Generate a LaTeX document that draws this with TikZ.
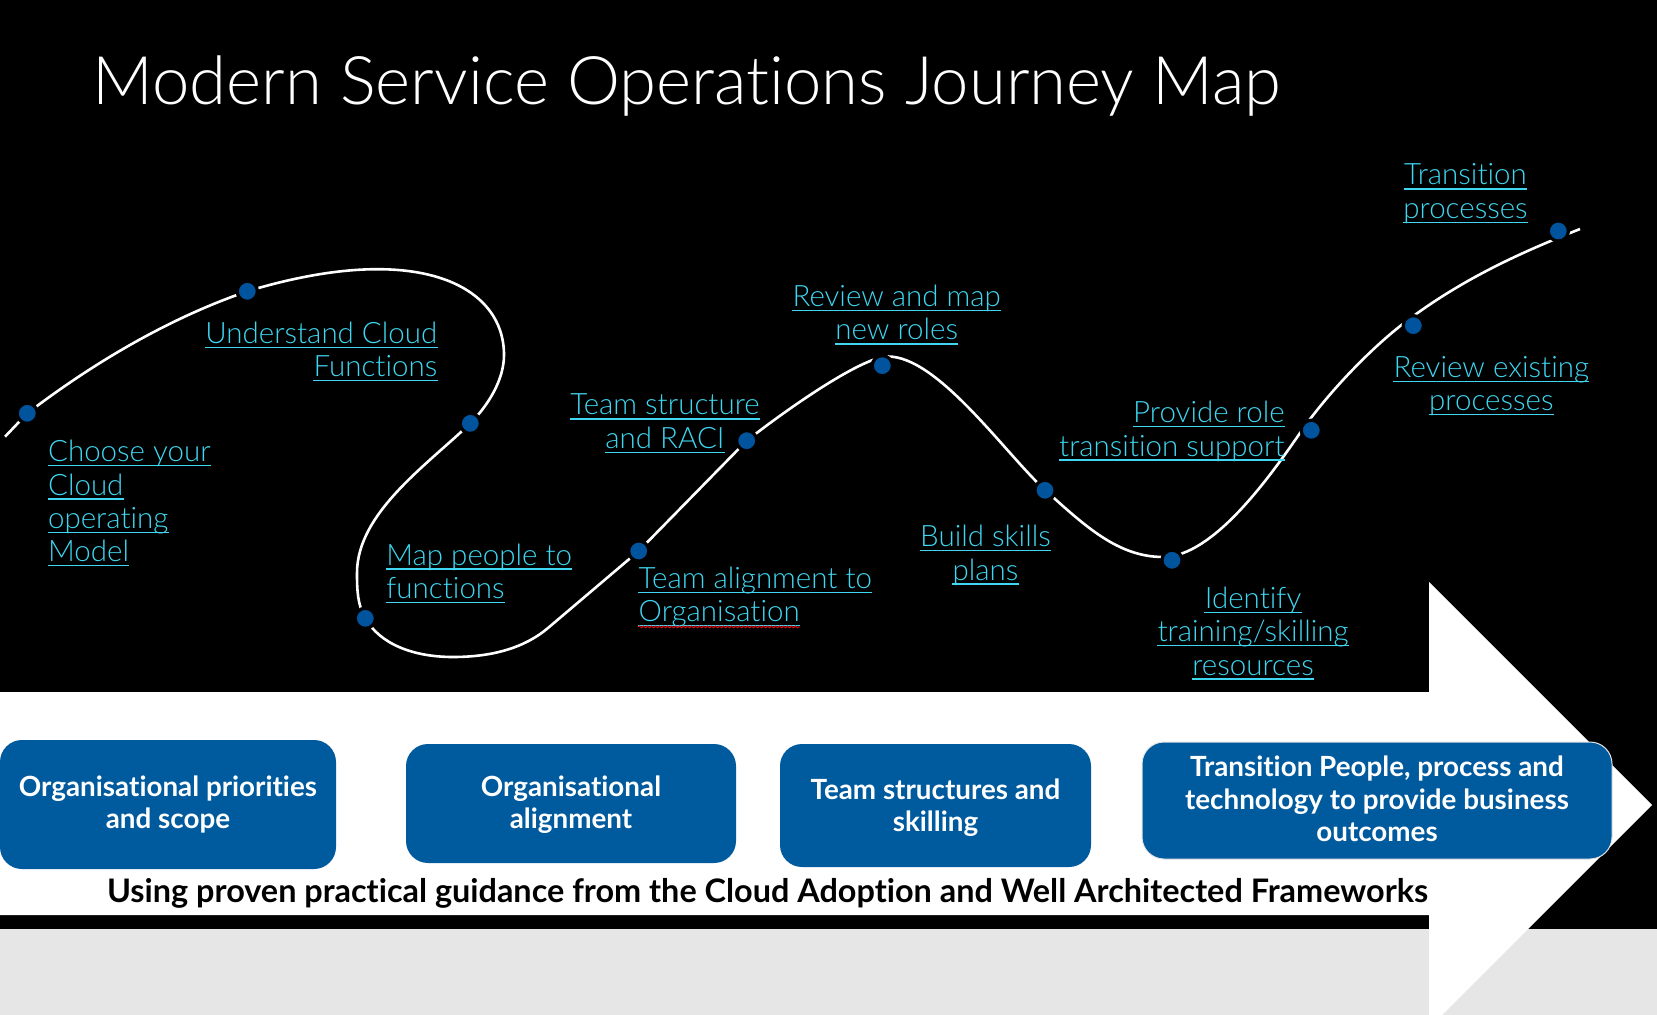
\documentclass[tikz,border=0pt]{standalone}
\usepackage{fontspec}
\usetikzlibrary{decorations.pathmorphing}
\IfFontExistsTF{Lato Light}{\newfontfamily\lightfont{Lato Light}[Ligatures=NoCommon]}{\newfontfamily\lightfont{Lato}[Ligatures=NoCommon]}
\newfontfamily\boldfont{Lato}[UprightFont=* Bold, Ligatures=NoCommon]
\definecolor{boxblue}{RGB}{0,90,158}
\definecolor{dotblue}{RGB}{0,84,158}
\definecolor{labcyan}{RGB}{62,214,240}
\definecolor{bggray}{RGB}{230,230,230}
\tikzset{
  lab/.style={text=labcyan, inner sep=0pt, font=\lightfont\fontsize{14.75pt}{16pt}\selectfont},
  ulinest/.style={draw=labcyan, line width=0.7pt},
  boxst/.style={fill=boxblue, rounded corners=11pt},
  boxtxt/.style={text=white, inner sep=0pt, font=\boldfont\fontsize{13.9pt}{16pt}\selectfont},
  dotst/.style={circle, fill=dotblue, draw=black, line width=1.6pt, minimum size=10.1pt, inner sep=0pt},
  curvest/.style={draw=white, line width=1.3pt}
}
\newcommand\ulab[4]{%
  \node[lab, anchor=#2] (#1) at (#3) {#4};
  \draw[ulinest] ([yshift=-2pt]#1.base west) -- ([yshift=-2pt]#1.base east);}
\begin{document}
\begin{tikzpicture}[x=0.5pt,y=-0.5pt]
\useasboundingbox (0,0) rectangle (1657,1015);
% backgrounds
\fill[black] (0,0) rectangle (1657,929);
\fill[bggray] (0,929) rectangle (1657,1015);
\fill[white] (0,692) -- (1429,692) -- (1429,582) -- (1652,805) -- (1429,1028) -- (1429,915) -- (0,915) -- cycle;
% title
\node[text=white, inner sep=0pt, anchor=base west, font=\lightfont\fontsize{33.5pt}{40pt}\selectfont] (title) at (92,104.3) {Modern Service Operations Journey Map};
% curve
\draw[curvest] (5,436.7) -- (27.3,413.3)
 .. controls (100,358) and (174,316.5) .. (247.3,291.3)
 .. controls (417,240) and (504,285) .. (504,355)
 .. controls (504,380) and (488,405.5) .. (470.3,423.3)
 .. controls (427,465) and (357,513) .. (357,573)
 .. controls (357,590) and (357.5,605) .. (365.3,618.3)
 .. controls (380,644) and (413,657) .. (453,657)
 .. controls (493,657) and (525,647.5) .. (548,628)
 -- (638.7,551) -- (746.7,440.7)
 .. controls (791.7,405.6) and (863,356.5) .. (888,356.5)
 .. controls (938,356.5) and (1005,453.2) .. (1045,490)
 .. controls (1085,526) and (1118,557) .. (1163,557)
 .. controls (1213,557) and (1270,476.5) .. (1300,433)
 .. controls (1328,392.4) and (1373,346) .. (1408,320)
 .. controls (1468,275) and (1530,249) .. (1580,229);
% dots
\node[dotst] (d1) at (27.3,413.3) {};
\node[dotst] (d2) at (247.3,291.3) {};
\node[dotst] (d3) at (470.3,423.3) {};
\node[dotst] (d4) at (365.3,618.3) {};
\node[dotst] (d5) at (638.7,551) {};
\node[dotst] (d6) at (746.7,440.7) {};
\node[dotst] (d7) at (882.3,365.7) {};
\node[dotst] (d8) at (1045,490.3) {};
\node[dotst] (d9) at (1172,560.3) {};
\node[dotst] (d10) at (1311.3,430.3) {};
\node[dotst] (d11) at (1413.3,325.7) {};
\node[dotst] (d12) at (1558.3,231) {};
% labels
\ulab{l1a}{base west}{47.7,461.7}{Choose your}
\ulab{l1b}{base west}{47.7,495}{Cloud}
\ulab{l1c}{base west}{47.7,528.3}{operating}
\ulab{l1d}{base west}{47.7,561.7}{Model}
\ulab{l2a}{base east}{437.7,343.3}{Understand Cloud}
\ulab{l2b}{base east}{437.7,376.7}{Functions}
\ulab{l3a}{base west}{386,565}{Map people to}
\ulab{l3b}{base west}{386,598.3}{functions}
\ulab{l4a}{base}{665,415}{Team structure}
\ulab{l4b}{base}{665,448.3}{and RACI}
\ulab{l5a}{base west}{638.3,588.3}{Team alignment to}
\ulab{l5b}{base west}{638.3,621.7}{Organisation}
\draw[red, line width=0.4pt, decorate, decoration={snake, amplitude=0.5pt, segment length=2pt}] ([yshift=-2.6pt]l5b.base west) -- ([yshift=-2.6pt]l5b.base east);
\ulab{l6a}{base}{896.7,306.7}{Review and map}
\ulab{l6b}{base}{896.7,340}{new roles}
\ulab{l7a}{base}{985.5,546.7}{Build skills}
\ulab{l7b}{base}{985.5,580}{plans}
\ulab{l8a}{base east}{1285,422.3}{Provide role}
\ulab{l8b}{base east}{1285,456}{transition support}
\ulab{l9a}{base}{1253,608.3}{Identify}
\ulab{l9b}{base}{1253,641.7}{training/skilling}
\ulab{l9c}{base}{1253,675}{resources}
\ulab{l10a}{base}{1491.3,377.3}{Review existing}
\ulab{l10b}{base}{1491.3,410.7}{processes}
\ulab{l11a}{base}{1465.5,185}{Transition}
\ulab{l11b}{base}{1465.5,218.3}{processes}
% boxes
\fill[boxst] (0,740) rectangle (336,869);
\node[boxtxt, anchor=base] (b1a) at (168,796.7) {Organisational priorities};
\node[boxtxt, anchor=base] (b1b) at (168,828.3) {and scope};
\fill[boxst] (406,744) rectangle (736,863);
\node[boxtxt, anchor=base] (b2a) at (571,796.7) {Organisational};
\node[boxtxt, anchor=base] (b2b) at (571,828.3) {alignment};
\fill[boxst] (780,744) rectangle (1091,867);
\node[boxtxt, anchor=base] (b3a) at (935.5,799) {Team structures and};
\node[boxtxt, anchor=base] (b3b) at (935.5,831) {skilling};
\filldraw[boxst, draw=white!80!gray, line width=0.5pt] (1142,742) rectangle (1612,859);
\node[boxtxt, anchor=base] (b4a) at (1377,776.7) {Transition People, process and};
\node[boxtxt, anchor=base] (b4b) at (1377,809.3) {technology to provide business};
\node[boxtxt, anchor=base] (b4c) at (1377,841.7) {outcomes};
% bottom line
\node[text=black, inner sep=0pt, anchor=base, font=\boldfont\fontsize{16.2pt}{18pt}\selectfont] (foot) at (767.5,902.7) {Using proven practical guidance from the Cloud Adoption and Well Architected Frameworks};
\end{tikzpicture}
\end{document}
